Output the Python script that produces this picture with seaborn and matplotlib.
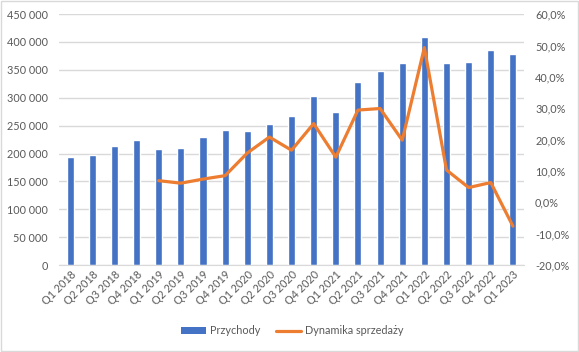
import numpy as np
import pandas as pd
import matplotlib
matplotlib.use("Agg")
import matplotlib.pyplot as plt
import seaborn as sns
from matplotlib.ticker import FuncFormatter, MultipleLocator
from matplotlib.patches import Rectangle, Patch
from matplotlib.lines import Line2D

quarters = ["Q1 2018", "Q2 2018", "Q3 2018", "Q4 2018",
            "Q1 2019", "Q2 2019", "Q3 2019", "Q4 2019",
            "Q1 2020", "Q2 2020", "Q3 2020", "Q4 2020",
            "Q1 2021", "Q2 2021", "Q3 2021", "Q4 2021",
            "Q1 2022", "Q2 2022", "Q3 2022", "Q4 2022",
            "Q1 2023"]
revenue = [193500, 197000, 213000, 224000,
           208000, 210000, 229000, 242000,
           240000, 253000, 267000, 303000,
           274000, 328000, 348000, 362000,
           409000, 362000, 364000, 385000,
           378000]
dynamics = [np.nan, np.nan, np.nan, np.nan,
            6.9, 6.1, 7.4, 8.5,
            15.7, 20.8, 16.6, 25.1,
            14.4, 29.4, 29.9, 19.8,
            49.3, 10.3, 4.7, 6.3,
            -7.6]

df = pd.DataFrame({"kwartal": quarters, "przychody": revenue, "dynamika": dynamics})
df["pos"] = np.arange(len(df))

BLUE = "#4472C4"
ORANGE = "#ED7D31"
GRID = "#D9D9D9"
TXT = "#595959"
FS = 7.8

sns.set_style("white")
plt.rcParams["font.family"] = ["Lato", "DejaVu Sans"]

fig = plt.figure(figsize=(5.79, 3.52), dpi=100)
ax = fig.add_axes([0.102, 0.247, 0.803, 0.713])

sns.barplot(data=df, x="kwartal", y="przychody", color=BLUE, width=0.32,
            saturation=1, ax=ax, zorder=2)
ax.set_ylim(0, 450000)
ax.yaxis.set_major_locator(MultipleLocator(50000))
ax.yaxis.set_major_formatter(FuncFormatter(lambda v, p: f"{int(v):,}".replace(",", " ")))
ax.grid(axis="y", color=GRID, linewidth=1, zorder=0)
ax.set_axisbelow(True)
ax.set_xlabel("")
ax.set_ylabel("")
for s in ["top", "right", "left"]:
    ax.spines[s].set_visible(False)
ax.spines["bottom"].set_color(GRID)
ax.tick_params(axis="y", length=0, colors=TXT, labelsize=FS, pad=8)
ax.tick_params(axis="x", length=0, colors=TXT, labelsize=FS, pad=3)
ax.set_xlim(-0.5, len(df) - 0.5)
plt.setp(ax.get_xticklabels(), rotation=45, ha="right", rotation_mode="anchor")

ax2 = ax.twinx()
sns.lineplot(data=df, x="pos", y="dynamika", color=ORANGE, linewidth=2.3, ax=ax2, zorder=3)
ax2.set_ylim(-20, 60)
ax2.yaxis.set_major_locator(MultipleLocator(10))
ax2.yaxis.set_major_formatter(FuncFormatter(lambda v, p: f"{v:.1f}%".replace(".", ",")))
ax2.set_ylabel("")
ax2.set_xlabel("")
for s in ["top", "right", "left", "bottom"]:
    ax2.spines[s].set_visible(False)
ax2.tick_params(axis="y", length=0, colors=TXT, labelsize=FS, pad=8)
ax2.set_xlim(-0.5, len(df) - 0.5)

handles = [Patch(facecolor=BLUE, edgecolor="none"),
           Line2D([0], [0], color=ORANGE, linewidth=2.3)]
fig.legend(handles, ["Przychody", "Dynamika sprzedaży"], loc="center",
           bbox_to_anchor=(0.505, 0.06), ncol=2, frameon=False, fontsize=FS,
           labelcolor=TXT, handlelength=2.3, handleheight=0.55, columnspacing=1.5,
           handletextpad=0.35)

fig.patches.append(Rectangle((0.002, 0.003), 0.996, 0.994, transform=fig.transFigure,
                             fill=False, edgecolor=GRID, linewidth=1))

fig.savefig("out.png", dpi=100)
